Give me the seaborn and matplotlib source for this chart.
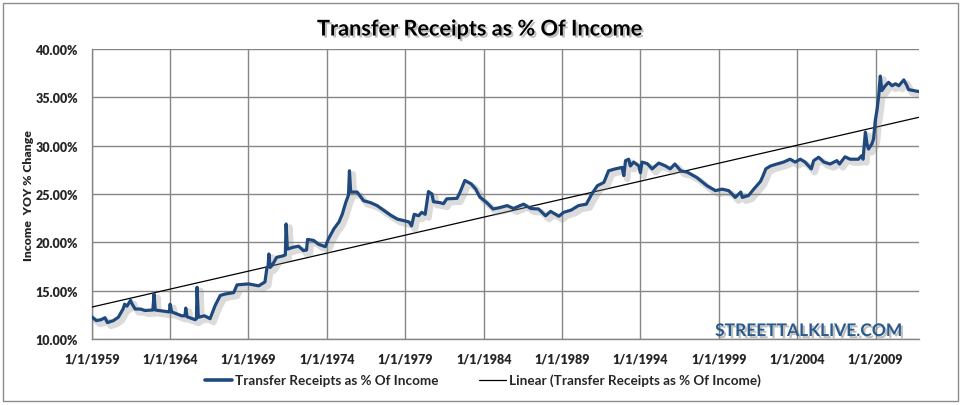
import matplotlib
matplotlib.use("Agg")
import matplotlib.pyplot as plt
import matplotlib.patheffects as pe
from matplotlib.lines import Line2D
from matplotlib.patches import Rectangle
from matplotlib.ticker import FuncFormatter
import seaborn as sns
import pandas as pd

# ---- data ----
years = [
    1959.00, 1959.30, 1959.60, 1959.85, 1960.00, 1960.38, 1960.70, 1961.00, 1961.10, 1961.25,
    1961.48, 1961.55, 1961.77, 1962.10, 1962.40, 1962.90, 1962.98, 1963.05, 1963.70, 1963.95,
    1964.00, 1964.10, 1964.74, 1964.95, 1965.00, 1965.08, 1965.60, 1965.68, 1965.72, 1965.80,
    1966.20, 1966.55, 1966.87, 1967.20, 1967.50, 1968.06, 1968.27, 1969.00, 1969.65, 1970.05,
    1970.18, 1970.25, 1970.30, 1970.38, 1970.50, 1970.80, 1971.20, 1971.35, 1971.40, 1971.48,
    1971.87, 1972.20, 1972.50, 1972.70, 1972.77, 1973.15, 1973.47, 1973.90, 1974.10, 1974.45,
    1974.77, 1974.98, 1975.20, 1975.38, 1975.44, 1975.52, 1975.93, 1976.35, 1976.80, 1977.20,
    1977.64, 1978.07, 1978.50, 1978.90, 1979.25, 1979.40, 1979.57, 1979.85, 1980.05, 1980.27,
    1980.48, 1980.70, 1980.80, 1981.23, 1981.44, 1981.65, 1982.30, 1982.50, 1982.80, 1983.20,
    1983.50, 1983.75, 1984.20, 1984.60, 1985.05, 1985.50, 1985.90, 1986.55, 1987.00, 1987.50,
    1987.95, 1988.27, 1988.80, 1989.10, 1989.60, 1990.05, 1990.55, 1990.90, 1991.25, 1991.67,
    1991.97, 1992.40, 1992.83, 1992.94, 1993.05, 1993.25, 1993.36, 1993.57, 1993.90, 1994.00,
    1994.10, 1994.43, 1994.75, 1995.17, 1995.60, 1995.90, 1996.20, 1996.57, 1997.00, 1997.60,
    1998.25, 1998.78, 1999.20, 1999.63, 2000.05, 2000.40, 2000.50, 2000.90, 2001.23, 2001.66,
    2001.80, 2002.00, 2002.30, 2002.70, 2003.13, 2003.55, 2003.87, 2004.20, 2004.50, 2004.90,
    2005.05, 2005.37, 2005.70, 2006.10, 2006.53, 2006.70, 2007.05, 2007.37, 2007.90, 2008.10,
    2008.20, 2008.35, 2008.45, 2008.55, 2008.77, 2008.87, 2008.98, 2009.10, 2009.20, 2009.30,
    2009.40, 2009.62, 2009.83, 2010.05, 2010.27, 2010.48, 2010.80, 2011.00, 2011.10, 2011.43,
    2011.75,
]
transfer_pct = [
    12.3, 11.9, 12.0, 12.2, 11.7, 11.9, 12.25, 13.1, 13.6, 13.4,
    14.0, 13.7, 13.1, 13.1, 12.95, 13.0, 14.65, 13.0, 12.85, 12.8,
    13.6, 12.8, 12.4, 12.4, 13.2, 12.3, 12.0, 12.1, 15.35, 12.25,
    12.4, 12.1, 13.45, 14.5, 14.65, 14.8, 15.6, 15.7, 15.5, 15.9,
    17.4, 17.5, 18.8, 17.4, 17.6, 18.45, 18.6, 18.7, 21.9, 19.3,
    19.5, 19.6, 19.15, 19.2, 20.3, 20.2, 19.8, 19.55, 20.35, 21.4,
    22.1, 22.9, 24.1, 24.9, 27.4, 25.2, 25.2, 24.3, 24.1, 23.8,
    23.3, 22.8, 22.4, 22.25, 22.1, 21.7, 22.9, 22.75, 23.1, 22.9,
    25.25, 25.0, 24.2, 24.1, 24.0, 24.5, 24.55, 25.2, 26.4, 26.05,
    25.5, 24.7, 24.1, 23.45, 23.6, 23.8, 23.5, 23.95, 23.5, 23.45,
    22.75, 23.2, 22.7, 23.1, 23.35, 23.8, 23.95, 25.0, 25.85, 26.2,
    27.4, 27.6, 27.75, 26.9, 28.45, 28.6, 27.9, 28.3, 27.9, 27.2,
    28.3, 28.15, 27.6, 28.2, 27.9, 27.6, 28.1, 27.4, 27.25, 26.7,
    25.85, 25.35, 25.5, 25.35, 24.65, 25.2, 24.65, 24.85, 25.5, 26.3,
    26.8, 27.6, 27.9, 28.1, 28.3, 28.6, 28.3, 28.6, 28.3, 27.6,
    28.45, 28.8, 28.3, 28.1, 28.45, 28.1, 28.85, 28.6, 28.6, 28.95,
    28.6, 31.4, 30.2, 29.65, 30.2, 30.7, 32.6, 33.8, 35.2, 37.2,
    35.7, 36.2, 36.55, 36.2, 36.4, 36.2, 36.8, 36.2, 35.8, 35.7,
    35.6,
]
# linear trend line (read at both ends of the axis)
trend_years = [1959.0, 2011.75]
trend_pct = [13.3, 32.93]

tick_years = [1959, 1964, 1969, 1974, 1979, 1984, 1989, 1994, 1999, 2004, 2009]
tick_labels = ["1/1/" + str(y) for y in tick_years]
y_ticks = [10, 15, 20, 25, 30, 35, 40]

series_name = "Transfer Receipts as % Of Income"
trend_name = "Linear (Transfer Receipts as % Of Income)"

df = pd.DataFrame({"year": years, "pct": transfer_pct})
tdf = pd.DataFrame({"year": trend_years, "pct": trend_pct})

# ---- style ----
sns.set_style("white")
plt.rcParams["font.family"] = ["Lato", "DejaVu Sans"]

W, H = 963, 406
fig = plt.figure(figsize=(W / 100, H / 100), dpi=100)
ax = fig.add_axes([91.7 / W, 1 - 340 / H, (918.7 - 91.7) / W, (340 - 50) / H])

blue = "#1F497D"
grid_c = "#868686"

sns.lineplot(data=tdf, x="year", y="pct", ax=ax, color="black", linewidth=0.9, zorder=4)
sns.lineplot(data=df, x="year", y="pct", ax=ax, color=blue, linewidth=2.3, zorder=5,
             path_effects=[pe.SimpleLineShadow(offset=(2.5, -2.5), shadow_color="#8a8a8a",
                                               alpha=0.3, linewidth=4.5),
                           pe.Normal()])

ax.set_xlim(1959.0, 2011.75)
ax.set_ylim(10, 40)
ax.set_xticks(tick_years)
ax.set_xticklabels(tick_labels)
ax.set_yticks(y_ticks)
ax.yaxis.set_major_formatter(FuncFormatter(lambda v, p: f"{v:.2f}%"))
ax.grid(True, color=grid_c, linewidth=1.0)
ax.set_axisbelow(True)
for s in ["top", "right"]:
    ax.spines[s].set_visible(False)
for s in ["left", "bottom"]:
    ax.spines[s].set_color(grid_c)
    ax.spines[s].set_linewidth(1.0)
ax.tick_params(axis="both", which="major", direction="out", length=4, width=1.0,
               color=grid_c, labelsize=9, pad=6)
for lab in ax.get_xticklabels() + ax.get_yticklabels():
    lab.set_fontweight("heavy")
ax.set_xlabel("")
ax.set_ylabel("")

shadow_txt = [pe.SimplePatchShadow(offset=(1.5, -1.5), shadow_rgbFace="#808080", alpha=0.5),
              pe.Normal()]

fig.text(480 / W, 1 - 30 / H, series_name, ha="center", va="center",
         fontsize=15.6, fontweight="bold", color="black", path_effects=shadow_txt)

fig.text(29 / W, 1 - 196 / H, "Income  YOY % Change", rotation=90, ha="center",
         va="center", fontsize=8.8, fontweight="heavy")

fig.text(902 / W, 1 - 332 / H, "STREETTALKLIVE.COM", ha="right", va="center",
         fontsize=12.5, fontweight="bold", color="#2B5A8C", path_effects=shadow_txt)

handles = [Line2D([0], [0], color=blue, linewidth=2.6),
           Line2D([0], [0], color="black", linewidth=0.9)]
fig.legend(handles, [series_name, trend_name], loc="center", ncol=2,
           bbox_to_anchor=(483 / W, 1 - 381 / H), frameon=False,
           prop={"size": 9.7, "weight": "bold"},
           handlelength=2.0, handletextpad=0.2, columnspacing=3.0)

fig.patches.append(Rectangle((3 / W, 4 / H), 955 / W, 398 / H, transform=fig.transFigure,
                             fill=False, edgecolor="#8c8c8c", linewidth=1.0))

fig.savefig("out.png", dpi=100)
